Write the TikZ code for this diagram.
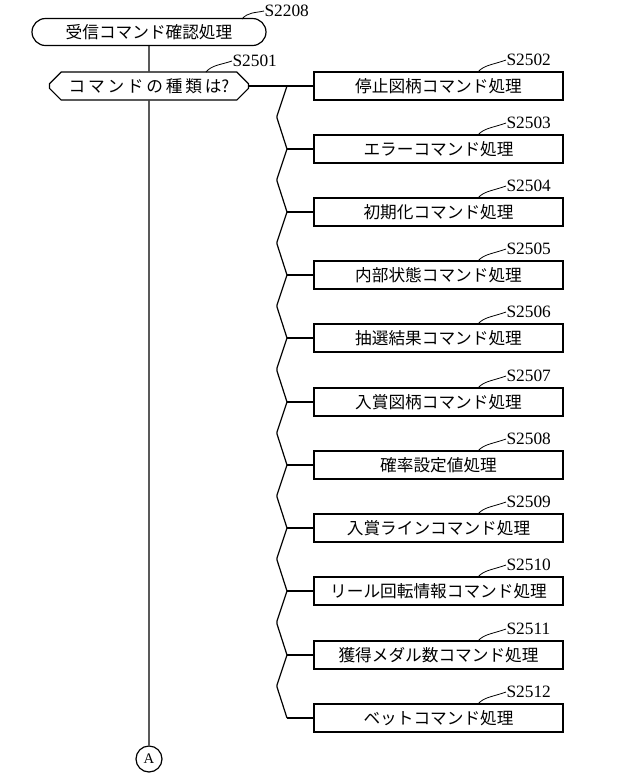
\documentclass[tikz,border=0pt]{standalone}
\usepackage{fontspec}
\newfontfamily\cjk{Noto Sans CJK JP}
\setmainfont{Liberation Serif}
\usetikzlibrary{shapes.misc,calc}
\begin{document}
\begin{tikzpicture}[x=0.75pt,y=-0.75pt,line width=0.9pt,
  proc/.style={draw,minimum width=249*0.75pt,minimum height=28*0.75pt,inner sep=0pt,font=\cjk\fontsize{12.5}{14}\selectfont},
  lbl/.style={font=\fontsize{13}{14}\selectfont,anchor=west,inner sep=0pt},
  lead/.style={line width=0.6pt}]
\useasboundingbox (0,0) rectangle (640,776);
\node[draw,rounded rectangle,minimum width=234*0.75pt,minimum height=27*0.75pt,inner sep=0pt,font=\cjk\fontsize{12.5}{14}\selectfont] (start) at (149,32) {受信コマンド確認処理};
\node[lbl] (ls) at (264,11) {S2208};
\draw[lead] (242,19) .. controls (248,12) and (255,13) .. (ls.west);
\node[draw,chamfered rectangle,chamfered rectangle xsep=14*0.75pt,minimum width=199*0.75pt,minimum height=28*0.75pt,inner sep=0pt,font=\cjk\fontsize{12.5}{14}\selectfont] (dec) at (149,86) {コ\,マ\,ン\,ド\,の\,種\,類\,は?};
\node[lbl] (ld) at (232,61) {S2501};
\draw[lead] (206,72) .. controls (212,65) and (220,65) .. (ld.west);
\node[draw,circle,minimum size=26*0.75pt,inner sep=0pt,font=\fontsize{11}{12}\selectfont] (A) at (149,759) {A};
\draw (start) -- (dec) -- (A);
\coordinate (j0) at (287,86);
\draw (dec.east) -- (j0);
\foreach \i/\t/\n [count=\k from 0] in {
 86/停止図柄コマンド処理/2502,
 149/エラーコマンド処理/2503,
 212/初期化コマンド処理/2504,
 275/内部状態コマンド処理/2505,
 338/抽選結果コマンド処理/2506,
 402/入賞図柄コマンド処理/2507,
 465/確率設定値処理/2508,
 528/入賞ラインコマンド処理/2509,
 591/リール回転情報コマンド処理/2510,
 655/獲得メダル数コマンド処理/2511,
 718/ベットコマンド処理/2512}{
  \node[proc] (b\k) at (438.5,\i) {\t};
  \node[lbl] (l\k) at (506,\i-26) {S\n};
  \draw[lead] (478,\i-14) .. controls (484,\i-21) and (492,\i-21) .. (l\k.west);
  \coordinate (j\k) at (287,\i);
  \draw (j\k) -- (b\k.west);
}
\foreach \a/\b in {0/1,1/2,2/3,3/4,4/5,5/6,6/7,7/8,8/9,9/10}{
  \draw (j\a) -- ($(j\a)+(-10,30)$) -- ($(j\b)+(-10,-31)$) -- (j\b);
}
\end{tikzpicture}
\end{document}
